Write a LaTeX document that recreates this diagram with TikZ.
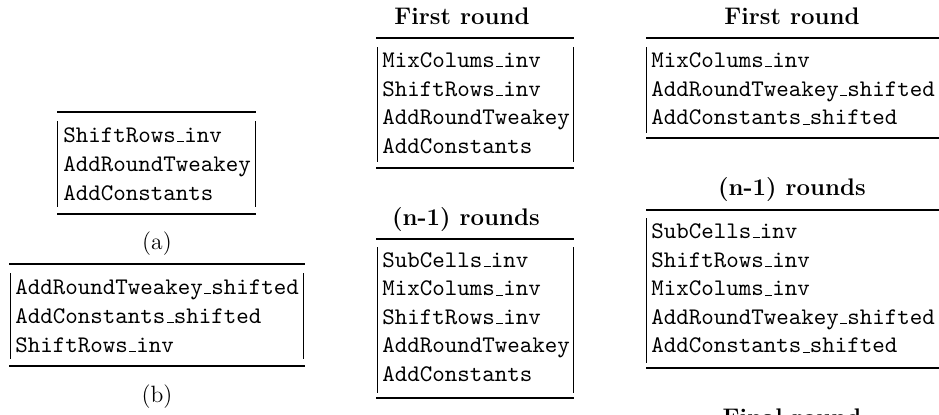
\documentclass[tikz,border=0pt]{standalone}
\newcommand\usc{\kern.06em\vbox{\hrule width.3em}}
\newcommand\tx[1]{\scalebox{1.19}{#1}}
\tikzset{
  row/.style={anchor=base west,inner sep=0pt,font=\fontsize{10}{12}\selectfont\ttfamily},
  ttl/.style={anchor=base,inner sep=0pt,font=\fontsize{12}{14.5}\selectfont\bfseries},
  sublabel/.style={inner sep=0pt,font=\fontsize{11.8}{14.5}\selectfont},
  thickrule/.style={line width=1pt},
  thinrule/.style={line width=0.6pt},
  vbar/.style={line width=0.45pt}
}
\begin{document}
\begin{tikzpicture}[x=0.5pt,y=-0.5pt]
\useasboundingbox (0,0) rectangle (939,414);
\clip (0,0) rectangle (939,414);
% ---- (a)
\draw[thickrule] (57,112) -- (256,112);
\draw[thickrule] (57,214) -- (256,214);
\draw[vbar] (57.7,121) -- (57.7,207);
\draw[vbar] (255,121) -- (255,207);
\node[row] (a1) at (63,142) {\tx{ShiftRows\usc inv}};
\node[row] (a2) at (63,171) {\tx{AddRoundTweakey}};
\node[row] (a3) at (63,200) {\tx{AddConstants}};
\node[sublabel] (la) at (157,244) {(a)};
% ---- (b)
\draw[thickrule] (9,264) -- (305,264);
\draw[thickrule] (9,366) -- (305,366);
\draw[vbar] (10,273) -- (10,359);
\draw[vbar] (303.5,273) -- (303.5,359);
\node[row] (b1) at (15,294) {\tx{AddRoundTweakey\usc shifted}};
\node[row] (b2) at (15,323) {\tx{AddConstants\usc shifted}};
\node[row] (b3) at (15,352) {\tx{ShiftRows\usc inv}};
\node[sublabel] (lb) at (157,397) {(b)};
% ---- middle, first round
\node[ttl] (m0) at (462,24) {First round};
\draw[thinrule] (376,38) -- (574,38);
\draw[thinrule] (376,168) -- (574,168);
\draw[vbar] (377,47) -- (377,162);
\draw[vbar] (573,47) -- (573,162);
\node[row] (m1) at (382,67) {\tx{MixColums\usc inv}};
\node[row] (m2) at (382,96) {\tx{ShiftRows\usc inv}};
\node[row] (m3) at (382,124.5) {\tx{AddRoundTweakey}};
\node[row] (m4) at (382,153) {\tx{AddConstants}};
% ---- middle, (n-1) rounds
\node[ttl] (n0) at (466,225) {(n-1) rounds};
\draw[thinrule] (376,239) -- (574,239);
\draw[thinrule] (376,398) -- (574,398);
\draw[vbar] (377,247) -- (377,393);
\draw[vbar] (573,247) -- (573,393);
\node[row] (n1) at (382,267) {\tx{SubCells\usc inv}};
\node[row] (n2) at (382,295.5) {\tx{MixColums\usc inv}};
\node[row] (n3) at (382,324) {\tx{ShiftRows\usc inv}};
\node[row] (n4) at (382,352.5) {\tx{AddRoundTweakey}};
\node[row] (n5) at (382,381) {\tx{AddConstants}};
% ---- right, first round
\node[ttl] (r0) at (792,24) {First round};
\draw[thinrule] (646,38) -- (945,38);
\draw[thinrule] (646,138) -- (945,138);
\draw[vbar] (646.5,47) -- (646.5,133);
\draw[vbar] (941,47) -- (941,133);
\node[row] (r1) at (651,67) {\tx{MixColums\usc inv}};
\node[row] (r2) at (651,96) {\tx{AddRoundTweakey\usc shifted}};
\node[row] (r3) at (651,124.5) {\tx{AddConstants\usc shifted}};
% ---- right, (n-1) rounds
\node[ttl] (s0) at (792,195) {(n-1) rounds};
\draw[thinrule] (646,210) -- (945,210);
\draw[thinrule] (646,368) -- (945,368);
\draw[vbar] (646.5,218) -- (646.5,363);
\draw[vbar] (941,218) -- (941,363);
\node[row] (s1) at (651,238) {\tx{SubCells\usc inv}};
\node[row] (s2) at (651,267) {\tx{ShiftRows\usc inv}};
\node[row] (s3) at (651,295.5) {\tx{MixColums\usc inv}};
\node[row] (s4) at (651,324) {\tx{AddRoundTweakey\usc shifted}};
\node[row] (s5) at (651,352.5) {\tx{AddConstants\usc shifted}};
% ---- right, final round (cut off at the lower edge, as in the reference)
\node[ttl] (f0) at (792,425) {Final round};
\end{tikzpicture}
\end{document}
